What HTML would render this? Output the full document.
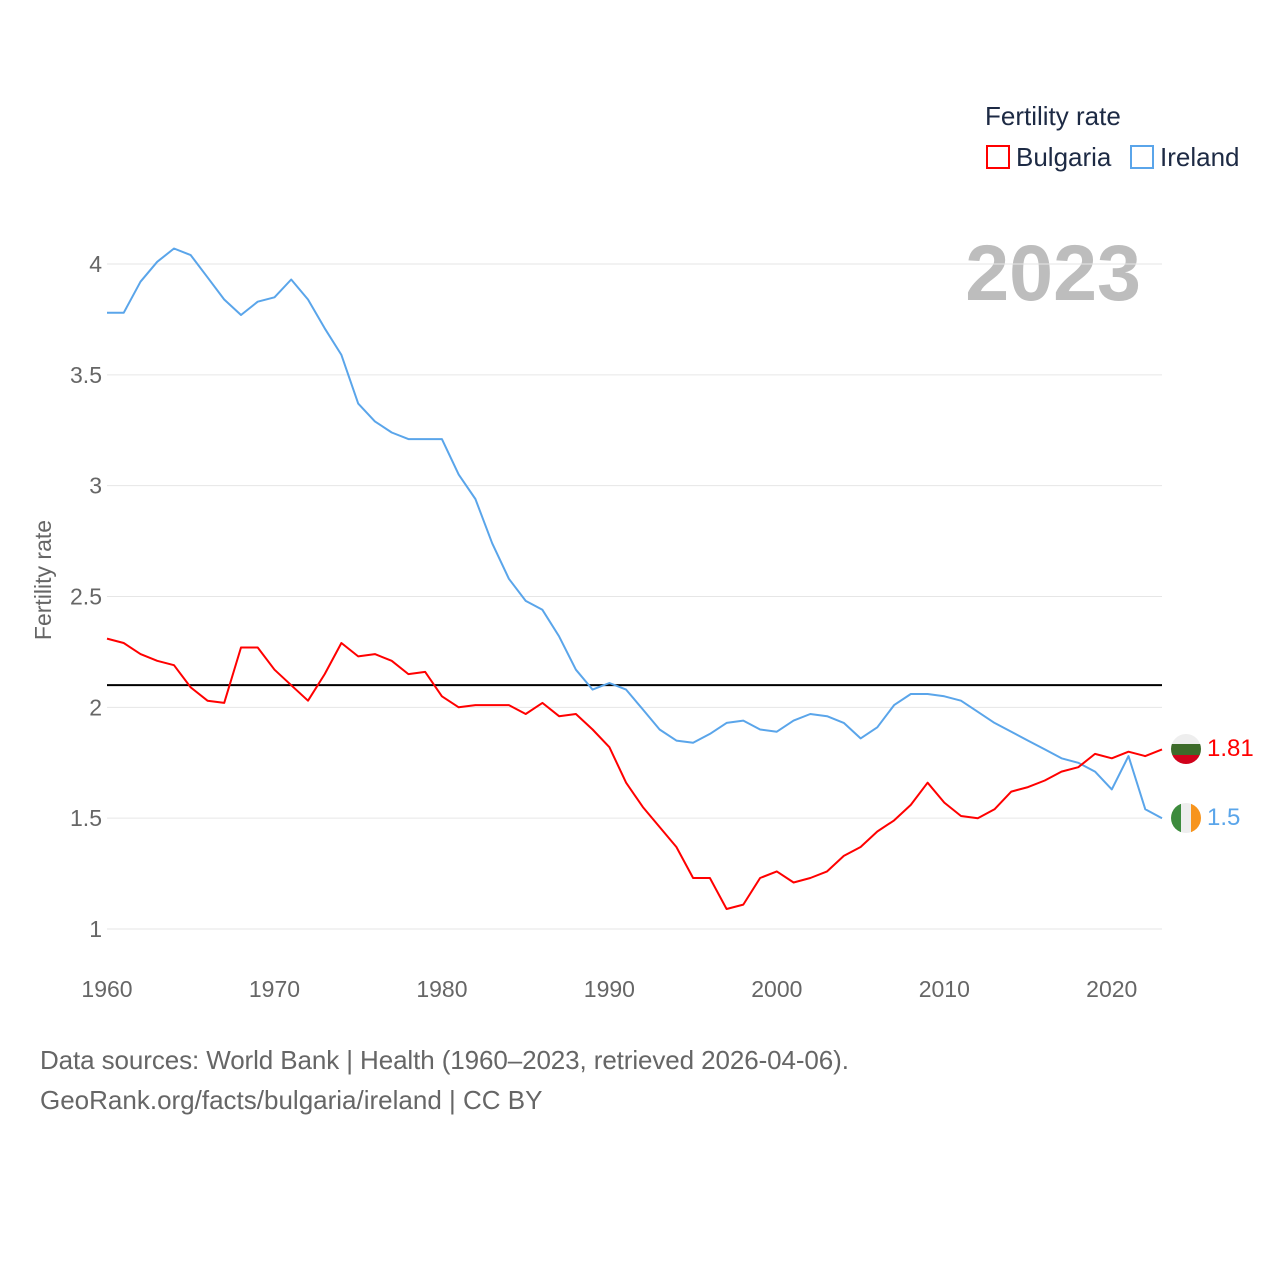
<!DOCTYPE html>
<html><head><meta charset="utf-8"><style>
body{margin:0;background:#fff;font-family:"Liberation Sans",sans-serif}
svg{display:block}
text{font-family:"Liberation Sans",sans-serif}
</style></head><body>
<svg id="chart" width="1280" height="1280">
<text x="985" y="125" font-size="26" fill="#1d2a44">Fertility rate</text>
<g><rect x="987" y="146" width="22" height="22" fill="none" stroke="#ff0000" stroke-width="2"/><text x="1016" y="166" font-size="26" fill="#1d2a44">Bulgaria</text></g>
<g><rect x="1131" y="146" width="22" height="22" fill="none" stroke="#5aa5ea" stroke-width="2"/><text x="1160" y="166" font-size="26" fill="#1d2a44">Ireland</text></g>
<text x="1141" y="300" font-size="79" font-weight="bold" fill="#bdbdbd" text-anchor="end">2023</text>
<text transform="translate(51,580) rotate(-90)" font-size="23" fill="#666" text-anchor="middle">Fertility rate</text>
<g id="grid"></g><g id="yt"></g><g id="xt"></g><g id="lines"></g>
<g><clipPath id="cb"><circle cx="1186" cy="749" r="15"/></clipPath><g clip-path="url(#cb)"><rect x="1170" y="733" width="32" height="11" fill="#eee"/><rect x="1170" y="744" width="32" height="11" fill="#3d6b2a"/><rect x="1170" y="755" width="32" height="11" fill="#d0021b"/></g></g>
<g><clipPath id="ci"><circle cx="1186" cy="818" r="15"/></clipPath><g clip-path="url(#ci)"><rect x="1170" y="802" width="11" height="32" fill="#3d8b3d"/><rect x="1181" y="802" width="10" height="32" fill="#eee"/><rect x="1191" y="802" width="11" height="32" fill="#f7941d"/></g></g>
<text x="1207" y="756" font-size="24" fill="#ff0000">1.81</text>
<text x="1207" y="825" font-size="24" fill="#5aa5ea">1.5</text>
<text x="40" y="1069" font-size="26" letter-spacing="-0.1" fill="#666">Data sources: World Bank | Health (1960–2023, retrieved 2026-04-06).</text>
<text x="40" y="1109" font-size="26" fill="#666">GeoRank.org/facts/bulgaria/ireland | CC BY</text>
</svg>
<script>
const years=[];for(let y=1960;y<=2023;y++)years.push(y);
const ireland=[3.78,3.78,3.92,4.01,4.07,4.04,3.94,3.84,3.77,3.83,3.85,3.93,3.84,3.71,3.59,3.37,3.29,3.24,3.21,3.21,3.21,3.05,2.94,2.74,2.58,2.48,2.44,2.32,2.17,2.08,2.11,2.08,1.99,1.90,1.85,1.84,1.88,1.93,1.94,1.90,1.89,1.94,1.97,1.96,1.93,1.86,1.91,2.01,2.06,2.06,2.05,2.03,1.98,1.93,1.89,1.85,1.81,1.77,1.75,1.71,1.63,1.78,1.54,1.50];
const bulgaria=[2.31,2.29,2.24,2.21,2.19,2.09,2.03,2.02,2.27,2.27,2.17,2.10,2.03,2.15,2.29,2.23,2.24,2.21,2.15,2.16,2.05,2.00,2.01,2.01,2.01,1.97,2.02,1.96,1.97,1.90,1.82,1.66,1.55,1.46,1.37,1.23,1.23,1.09,1.11,1.23,1.26,1.21,1.23,1.26,1.33,1.37,1.44,1.49,1.56,1.66,1.57,1.51,1.50,1.54,1.62,1.64,1.67,1.71,1.73,1.79,1.77,1.80,1.78,1.81];
const yTicks=[1,1.5,2,2.5,3,3.5,4];
const xTicks=[1960,1970,1980,1990,2000,2010,2020];
const refLine=[2.1];
const X=y=>107+(y-1960)*(1162-107)/63;
const Y=v=>929-(v-1)*(929-264)/3;
const NS="http://www.w3.org/2000/svg";
function mk(t,p,a){const e=document.createElementNS(NS,t);for(const k in a)e.setAttribute(k,a[k]);p.appendChild(e);return e;}
const grid=document.getElementById('grid'),yt=document.getElementById('yt'),xt=document.getElementById('xt'),lines=document.getElementById('lines');
yTicks.forEach(v=>{
 const l=mk('line',grid,{x1:107,x2:1162,y1:Y(v),y2:Y(v),stroke:'#e6e6e6','stroke-width':1});
 
 
 const t=mk('text',yt,{x:102,y:Y(v)+8,'font-size':23,fill:'#666','text-anchor':'end'});t.textContent=String(v);
 
 
});
xTicks.forEach(v=>{
 const t=mk('text',xt,{x:X(v),y:997,'font-size':23,fill:'#666','text-anchor':'middle'});t.textContent=String(v);
 
 
});
refLine.forEach(v=>{
 const l=mk('line',lines,{x1:107,x2:1162,y1:Y(v),y2:Y(v),stroke:'#000','stroke-width':2});
 
 
});
function series(vals,col,name){
 const d=vals.map((v,i)=>(i?'L':'M')+X(years[i]).toFixed(1)+','+Y(v).toFixed(1)).join('');
 const p=mk('path',lines,{d:d,fill:'none',stroke:col,'stroke-width':2,'stroke-linejoin':'round'});
 
 
}
series(ireland,'#5aa5ea','ireland-line');
series(bulgaria,'#ff0000','bulgaria-line');
</script>
</body></html>
